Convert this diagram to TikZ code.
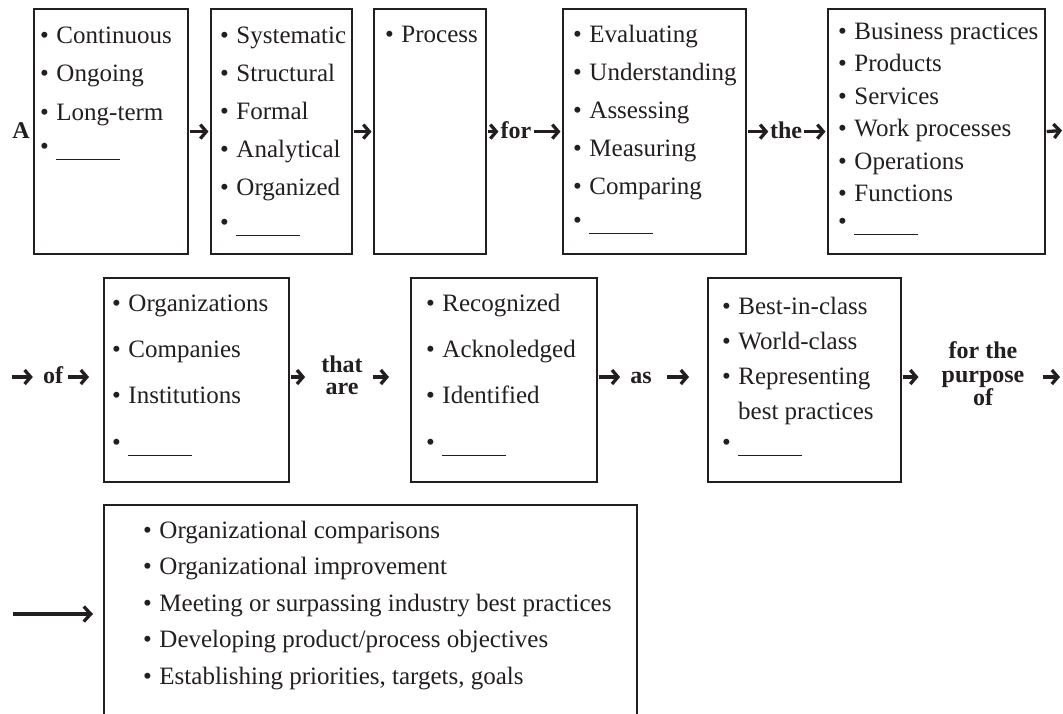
\documentclass[tikz,border=0pt]{standalone}
\usepackage{fontspec}
\setmainfont{Liberation Serif}
\usetikzlibrary{arrows.meta}
\definecolor{ink}{HTML}{231F20}
\newcommand{\itm}[1]{\textbullet\hspace{0.3em}#1}
\newcommand{\blankline}{\textbullet\hspace{0.3em}\rule[-6pt]{64pt}{1.1pt}}
\begin{document}
\begin{tikzpicture}[x=1pt,y=-1pt,
  box/.style={draw=ink, line width=2.2pt, inner sep=0pt, anchor=north west, rectangle},
  item/.style={anchor=base west, inner sep=0pt, text=ink, font=\fontsize{25}{30}\selectfont},
  lbl/.style={text=ink, font=\fontsize{24}{22}\selectfont\bfseries, inner sep=0pt, align=center},
  arr/.style={draw=ink, line width=3.3pt, -{Straight Barb[length=6pt,width=14pt]}},
  longarr/.style={draw=ink, line width=3.3pt, -{Straight Barb[length=7pt,width=15pt]}},
]
\useasboundingbox (0,0) rectangle (1063,713);
\clip (0,0) rectangle (1063,713);
\fill[white] (0,0) rectangle (1063,713);

% ---------- Row 1 ----------
\node[box, minimum width=154pt, minimum height=245pt] (box1) at (33,8) {};
\node[box, minimum width=141pt, minimum height=245pt] (box2) at (210,8) {};
\node[box, minimum width=112pt, minimum height=245pt] (box3) at (373,8) {};
\node[box, minimum width=183pt, minimum height=245pt] (box4) at (562,8) {};
\node[box, minimum width=217pt, minimum height=245pt] (box5) at (827,8) {};

\node[item] (b1a) at (40,43) {\itm{Continuous}};
\node[item] (b1b) at (40,81.5) {\itm{Ongoing}};
\node[item] (b1c) at (40,120) {\itm{Long-term}};
\node[item] (b1d) at (40,154) {\blankline};

\node[item] (b2a) at (220,43) {\itm{Systematic}};
\node[item] (b2b) at (220,81) {\itm{Structural}};
\node[item] (b2c) at (220,119) {\itm{Formal}};
\node[item] (b2d) at (220,157) {\itm{Analytical}};
\node[item] (b2e) at (220,195) {\itm{Organized}};
\node[item] (b2f) at (220,230) {\blankline};

\node[item] (b3a) at (385,42) {\itm{Process}};

\node[item] (b4a) at (573,42) {\itm{Evaluating}};
\node[item] (b4b) at (573,80) {\itm{Understanding}};
\node[item] (b4c) at (573,118) {\itm{Assessing}};
\node[item] (b4d) at (573,156) {\itm{Measuring}};
\node[item] (b4e) at (573,194) {\itm{Comparing}};
\node[item] (b4f) at (573,228) {\blankline};

\node[item] (b5a) at (838,39) {\itm{Business practices}};
\node[item] (b5b) at (838,71.5) {\itm{Products}};
\node[item] (b5c) at (838,104) {\itm{Services}};
\node[item] (b5d) at (838,136.5) {\itm{Work processes}};
\node[item] (b5e) at (838,169) {\itm{Operations}};
\node[item] (b5f) at (838,201.5) {\itm{Functions}};
\node[item] (b5g) at (838,229) {\blankline};

\node[lbl, anchor=base] (A) at (21,138) {A};
\node[lbl, anchor=base] (for) at (516,138) {for};
\node[lbl, anchor=base] (the) at (786,138) {the};
\coordinate (r1end) at (1062,130.5);

\draw[arr, shorten <=0.5pt, shorten >=1.5pt] (box1.east) -- (box2.west);
\draw[arr, shorten <=0.5pt, shorten >=1.5pt] (box2.east) -- (box3.west);
\draw[arr, shorten <=0.5pt, shorten >=2pt] (box3.east) -- (box3.east -| for.west);
\draw[arr, shorten <=2pt, shorten >=1.5pt] (box4.west -| for.east) -- (box4.west);
\draw[arr, shorten <=0.5pt, shorten >=1.5pt] (box4.east) -- (box4.east -| the.west);
\draw[arr, shorten <=2pt, shorten >=1.5pt] (box5.west -| the.east) -- (box5.west);
\draw[arr, shorten <=0.5pt] (box5.east) -- (r1end);

% ---------- Row 2 ----------
\node[box, minimum width=185pt, minimum height=204pt] (box6) at (103,277) {};
\node[box, minimum width=186pt, minimum height=204pt] (box7) at (410,277) {};
\node[box, minimum width=193pt, minimum height=204pt] (box8) at (707,277) {};

\node[item] (b6a) at (112,311) {\itm{Organizations}};
\node[item] (b6b) at (112,357) {\itm{Companies}};
\node[item] (b6c) at (112,403) {\itm{Institutions}};
\node[item] (b6d) at (112,450) {\blankline};

\node[item] (b7a) at (426,311) {\itm{Recognized}};
\node[item] (b7b) at (426,357) {\itm{Acknoledged}};
\node[item] (b7c) at (426,403) {\itm{Identified}};
\node[item] (b7d) at (426,450) {\blankline};

\node[item] (b8a) at (722,314) {\itm{Best-in-class}};
\node[item] (b8b) at (722,349) {\itm{World-class}};
\node[item] (b8c) at (722,384) {\itm{Representing}};
\node[item] (b8d) at (738,419) {best practices};
\node[item] (b8e) at (722,450) {\blankline};

\coordinate (r2start) at (12,377);
\coordinate (r2end) at (1060,377);
\node[lbl, anchor=base] (of) at (53,383) {of};
\node[lbl] (that) at (342,375) {that\\are};
\node[lbl, anchor=base] (as) at (641,383) {as};
\node[lbl, font=\fontsize{24}{23.5}\selectfont\bfseries] (purp) at (983,374) {for the\\purpose\\of};

\draw[arr, shorten >=10pt] (r2start) -- (r2start -| of.west);
\draw[arr, shorten <=5pt, shorten >=14pt] (r2start -| of.east) -- (r2start -| box6.west);
\draw[arr, shorten <=0.5pt, shorten >=16pt] (r2start -| box6.east) -- (r2start -| that.west);
\draw[arr, shorten <=10pt, shorten >=21pt] (r2start -| that.east) -- (r2start -| box7.west);
\draw[arr, shorten <=0.5pt, shorten >=10pt] (r2start -| box7.east) -- (r2start -| as.west);
\draw[arr, shorten <=15pt, shorten >=18pt] (r2start -| as.east) -- (r2start -| box8.west);
\draw[arr, shorten <=0.5pt, shorten >=23pt] (r2start -| box8.east) -- (r2start -| purp.west);
\draw[arr, shorten <=18pt] (r2start -| purp.east) -- (r2end);

% ---------- Row 3 ----------
\node[box, minimum width=533pt, minimum height=240pt] (box9) at (103,504) {};
\node[item] (b9a) at (143,538) {\itm{Organizational comparisons}};
\node[item] (b9b) at (143,574.5) {\itm{Organizational improvement}};
\node[item] (b9c) at (143,611) {\itm{Meeting or surpassing industry best practices}};
\node[item] (b9d) at (143,647.5) {\itm{Developing product/process objectives}};
\node[item] (b9e) at (143,684) {\itm{Establishing priorities, targets, goals}};

\coordinate (r3start) at (13,614);
\draw[longarr, shorten >=10pt] (r3start) -- (r3start -| box9.west);
\end{tikzpicture}
\end{document}
